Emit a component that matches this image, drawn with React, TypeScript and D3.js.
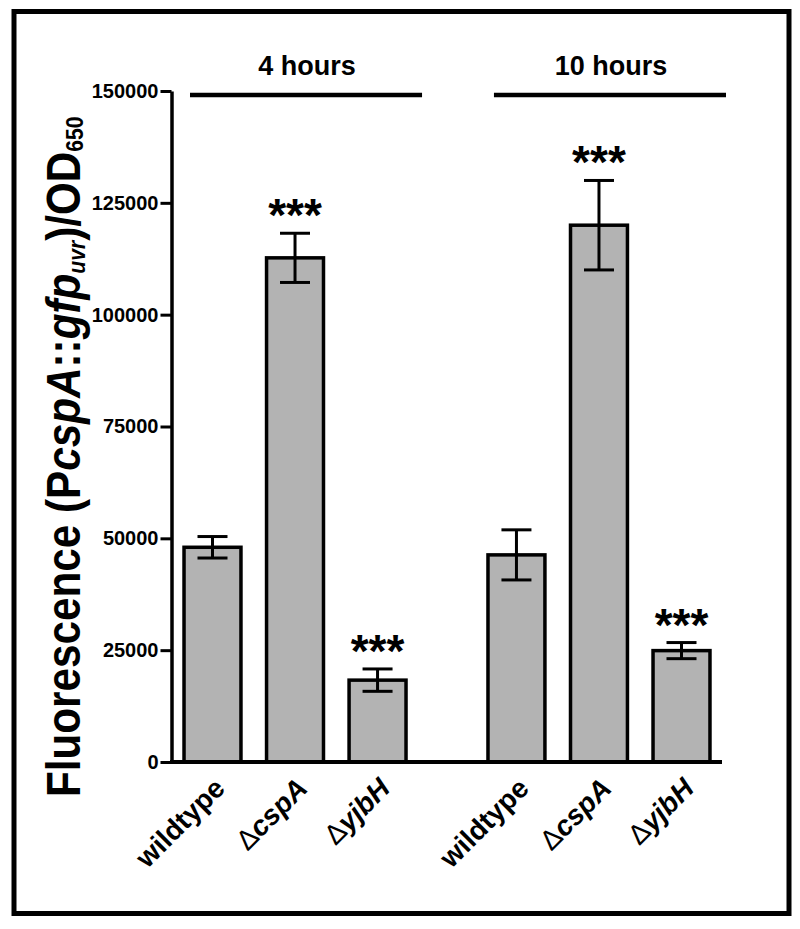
import React, { useRef, useEffect } from "react";
import * as d3 from "d3";

// chart data
const groups = ["4 hours", "10 hours"];
const strains = ["wildtype", "cspA", "yjbH"];
const isDeletion = [false, true, true];
const mean4h = [48000, 112700, 18300];
const err4h = [2400, 5500, 2500];
const mean10h = [46300, 120000, 24900];
const err10h = [5600, 10000, 1800];
const stars4h = ["", "***", "***"];
const stars10h = ["", "***", "***"];
const yTicks = [0, 25000, 50000, 75000, 100000, 125000, 150000];

const FONT = "'Liberation Sans', Arial, Helvetica, sans-serif";

type Row = {
  group: string;
  strain: string;
  del: boolean;
  mean: number;
  err: number;
  stars: string;
};

const App = () => {
  const svgRef = useRef<SVGSVGElement>(null);

  useEffect(() => {
    const width = 800;
    const height = 929;

    const svg = d3
      .select(svgRef.current)
      .attr("width", width)
      .attr("height", height)
      .style("font-family", FONT);
    svg.selectAll("*").remove();

    const means = [mean4h, mean10h];
    const errs = [err4h, err10h];
    const stars = [stars4h, stars10h];
    const rows: Row[] = groups.flatMap((g, gi) =>
      strains.map((s, i) => ({
        group: g,
        strain: s,
        del: isDeletion[i],
        mean: means[gi][i],
        err: errs[gi][i],
        stars: stars[gi][i],
      }))
    );

    // scales
    const y = d3.scaleLinear().domain([0, 150000]).range([762, 91]);
    const x0 = d3
      .scaleBand<string>()
      .domain(groups)
      .range([178, 716])
      .paddingInner(0.23);
    const x1 = d3
      .scaleBand<string>()
      .domain(strains)
      .range([0, x0.bandwidth()])
      .paddingInner(0.31)
      .paddingOuter(0.073);
    const cx = (d: Row) => (x0(d.group) ?? 0) + (x1(d.strain) ?? 0) + x1.bandwidth() / 2;

    // outer frame
    svg
      .append("rect")
      .attr("x", 14)
      .attr("y", 11.5)
      .attr("width", 775)
      .attr("height", 902)
      .attr("fill", "none")
      .attr("stroke", "#000")
      .attr("stroke-width", 5);

    // bars
    svg
      .selectAll(".bar")
      .data(rows)
      .enter()
      .append("rect")
      .attr("class", "bar")
      .attr("x", (d) => (x0(d.group) ?? 0) + (x1(d.strain) ?? 0))
      .attr("y", (d) => y(d.mean))
      .attr("width", x1.bandwidth())
      .attr("height", (d) => y(0) - y(d.mean))
      .attr("fill", "#b3b3b3")
      .attr("stroke", "#000")
      .attr("stroke-width", 3.5);

    // error bars
    const capW = 30;
    const eb = svg.selectAll(".err").data(rows).enter().append("g").attr("class", "err");
    eb.append("line")
      .attr("x1", cx)
      .attr("x2", cx)
      .attr("y1", (d) => y(d.mean + d.err))
      .attr("y2", (d) => y(d.mean - d.err));
    eb.append("line")
      .attr("x1", (d) => cx(d) - capW / 2)
      .attr("x2", (d) => cx(d) + capW / 2)
      .attr("y1", (d) => y(d.mean + d.err))
      .attr("y2", (d) => y(d.mean + d.err));
    eb.append("line")
      .attr("x1", (d) => cx(d) - capW / 2)
      .attr("x2", (d) => cx(d) + capW / 2)
      .attr("y1", (d) => y(d.mean - d.err))
      .attr("y2", (d) => y(d.mean - d.err));
    eb.selectAll("line").attr("stroke", "#000").attr("stroke-width", 3);

    // significance stars
    svg
      .selectAll(".stars")
      .data(rows.filter((d) => d.stars))
      .enter()
      .append("text")
      .attr("class", "stars")
      .attr("x", cx)
      .attr("y", (d) => y(d.mean + d.err) - 2)
      .attr("text-anchor", "middle")
      .attr("font-size", 46)
      .attr("font-weight", "bold")
      .text((d) => d.stars);

    // y axis
    const yAxis = svg
      .append("g")
      .attr("transform", "translate(171.5,0)")
      .call(
        d3
          .axisLeft(y)
          .tickValues(yTicks)
          .tickSize(11)
          .tickSizeOuter(0)
          .tickPadding(2)
          .tickFormat(d3.format("d"))
      );
    yAxis.select(".domain").attr("stroke-width", 3.5);
    yAxis.selectAll(".tick line").attr("stroke-width", 3);
    yAxis
      .selectAll(".tick text")
      .attr("font-family", FONT)
      .attr("font-size", 20)
      .attr("font-weight", "bold")
      .attr("fill", "#000");

    // x baseline
    svg
      .append("line")
      .attr("x1", 170)
      .attr("x2", 722)
      .attr("y1", y(0))
      .attr("y2", y(0))
      .attr("stroke", "#000")
      .attr("stroke-width", 4);

    // x labels, rotated
    const xl = svg
      .selectAll(".xlab")
      .data(rows)
      .enter()
      .append("text")
      .attr("class", "xlab")
      .attr("transform", (d) => `translate(${cx(d) + 14},790) rotate(-45)`)
      .attr("text-anchor", "end")
      .attr("font-size", 28)
      .attr("font-weight", "bold");
    xl.filter((d) => d.del)
      .append("tspan")
      .attr("font-weight", "normal")
      .text("Δ");
    xl.append("tspan")
      .attr("font-style", (d) => (d.del ? "italic" : "normal"))
      .text((d) => d.strain);

    // group headers
    const gh = svg.selectAll(".grp").data(groups).enter().append("g").attr("class", "grp");
    gh.append("line")
      .attr("x1", (g) => (x0(g) ?? 0) + 12)
      .attr("x2", (g) => (x0(g) ?? 0) + x0.bandwidth() + 10)
      .attr("y1", 95)
      .attr("y2", 95)
      .attr("stroke", "#000")
      .attr("stroke-width", 4.5);
    gh.append("text")
      .attr("x", (g) => (x0(g) ?? 0) + x0.bandwidth() / 2 + 12)
      .attr("y", 75)
      .attr("text-anchor", "middle")
      .attr("font-size", 27)
      .attr("font-weight", "bold")
      .text((g) => g);

    // y title
    const title = svg
      .append("text")
      .attr("transform", "translate(80,797) rotate(-90) scale(0.88,1)")
      .attr("font-size", 48)
      .attr("font-weight", "bold");
    title.append("tspan").text("Fluorescence (P");
    title.append("tspan").attr("font-style", "italic").text("cspA");
    title.append("tspan").text("::");
    title.append("tspan").attr("font-style", "italic").text("gfp");
    title
      .append("tspan")
      .attr("font-style", "italic")
      .attr("font-size", 24)
      .attr("dy", 5)
      .text("uvr");
    title.append("tspan").attr("dy", -5).text(")/OD");
    title.append("tspan").attr("font-size", 24).attr("dy", 3).text("650");
  }, []);

  return <svg ref={svgRef} style={{ position: "absolute", left: 0, top: 0 }}></svg>;
};

export default App;
